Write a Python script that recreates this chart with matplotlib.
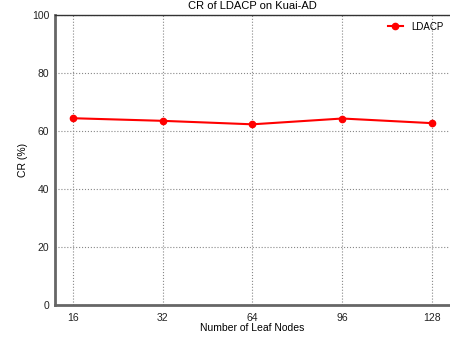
import matplotlib
matplotlib.use('Agg')
from matplotlib import pyplot as plt

# data
leaf_nodes = ['16', '32', '64', '96', '128']
cr_ldacp = [64.4, 63.5, 62.3, 64.3, 62.7]

plt.rcParams['font.family'] = ['Liberation Sans', 'DejaVu Sans']
plt.rcParams['font.size'] = 7.5

fig = plt.figure(figsize=(4.5, 3.39), dpi=100)
ax = fig.add_axes([0.122, 0.1, 0.878, 0.856])

xx = range(len(leaf_nodes))
ax.plot(xx, cr_ldacp, color='#ff0000', linewidth=1.5, marker='o', markersize=4.5,
        label='LDACP')

ax.set_xticks(list(xx))
ax.set_xticklabels(leaf_nodes)
ax.set_xlim(-0.2, 4.2)
ax.set_ylim(0, 100)
ax.set_yticks([0, 20, 40, 60, 80, 100])
ax.grid(True, linestyle=':', color='#888888', linewidth=0.8)
ax.tick_params(axis='x', length=0, pad=6, colors='#222222')
ax.tick_params(axis='y', length=0, pad=4, colors='#222222')

ax.spines['right'].set_visible(False)
ax.spines['left'].set_color('#666666')
ax.spines['left'].set_linewidth(2)
ax.spines['bottom'].set_color('#666666')
ax.spines['bottom'].set_linewidth(2)
ax.spines['top'].set_color('#333333')
ax.spines['top'].set_linewidth(1)

ax.set_xlabel('Number of Leaf Nodes', labelpad=0)
ax.set_ylabel('CR (%)', labelpad=3)
ax.set_title('CR of LDACP on Kuai-AD', fontsize=8, pad=4)
ax.legend(loc='upper right', frameon=False, fontsize=7, handlelength=1.6,
          borderaxespad=0.3)

fig.savefig('out.png', dpi=100)
